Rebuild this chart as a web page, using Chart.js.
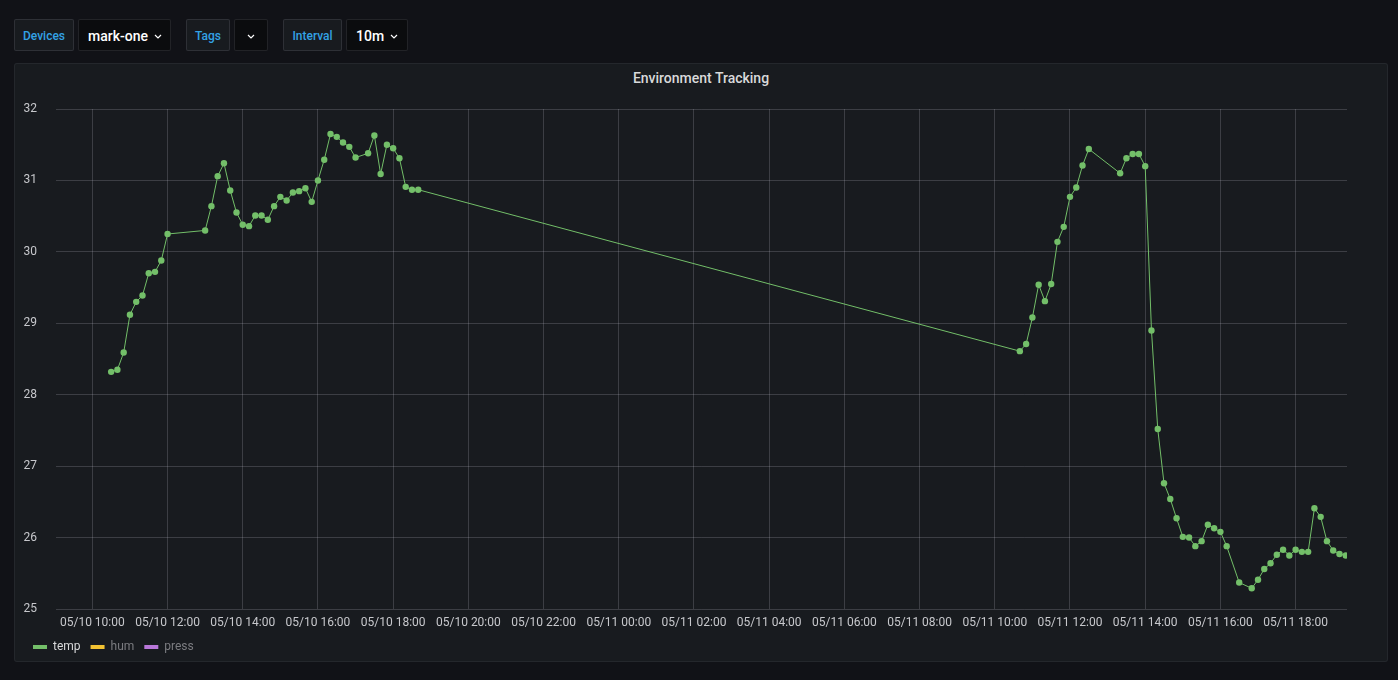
<!DOCTYPE html>
<html>
<head>
<meta charset="utf-8">
<script src="https://cdn.jsdelivr.net/npm/chart.js@4/dist/chart.umd.min.js"></script>
<style>
  html, body { margin:0; padding:0; width:1398px; height:680px; overflow:hidden; background:#111217; font-family:Roboto, "Noto Sans", sans-serif; }
  .ctl { position:absolute; top:19px; height:32px; box-sizing:border-box; border:1px solid rgba(204,204,220,0.12); border-radius:2px; display:flex; align-items:center; padding-top:2px; }
  .lbl { background:#181b1f; color:#33a2e5; font-size:12px; font-weight:500; justify-content:center; }
  .val { background:#0b0c0e; color:#ffffff; font-size:14px; font-weight:500; padding-left:9px; }
  .chev { width:8px; height:5px; margin-left:6px; }
  #panel { position:absolute; left:14px; top:63px; width:1374px; height:599px; box-sizing:border-box; background:#181b1f; border:1px solid rgba(204,204,220,0.07); border-radius:3px; }
  #title { position:absolute; left:14px; width:1374px; top:70px; line-height:16px; text-align:center; color:#d8d9da; font-size:14px; font-weight:500; }
  #wrap { position:absolute; left:14px; top:91px; width:1374px; height:572px; }
</style>
</head>
<body>
<div class="ctl lbl" style="left:14px;width:60px;">Devices</div>
<div class="ctl val" style="left:78px;width:93px;">mark-one<svg class="chev" viewBox="0 0 8 5"><path d="M1 1 L4 4 L7 1" stroke="#ffffff" stroke-width="1.2" fill="none"/></svg></div>
<div class="ctl lbl" style="left:186px;width:44px;">Tags</div>
<div class="ctl val" style="left:234px;width:34px;padding-left:0;justify-content:center;"><svg class="chev" style="margin-left:0" viewBox="0 0 8 5"><path d="M1 1 L4 4 L7 1" stroke="#ffffff" stroke-width="1.2" fill="none"/></svg></div>
<div class="ctl lbl" style="left:283px;width:59px;">Interval</div>
<div class="ctl val" style="left:346px;width:62px;">10m<svg class="chev" viewBox="0 0 8 5"><path d="M1 1 L4 4 L7 1" stroke="#ffffff" stroke-width="1.2" fill="none"/></svg></div>

<div id="panel"></div>
<div id="title">Environment Tracking</div>
<div id="wrap"><canvas id="c" width="1374" height="572"></canvas></div>

<script>
// ---- data ----
const tempTimes = [
  "05/10 10:30","05/10 10:40","05/10 10:50","05/10 11:00","05/10 11:10","05/10 11:20","05/10 11:30","05/10 11:40","05/10 11:50","05/10 12:00",
  "05/10 13:00","05/10 13:10","05/10 13:20","05/10 13:30","05/10 13:40","05/10 13:50","05/10 14:00","05/10 14:10","05/10 14:20","05/10 14:30",
  "05/10 14:40","05/10 14:50","05/10 15:00","05/10 15:10","05/10 15:20","05/10 15:30","05/10 15:40","05/10 15:50","05/10 16:00","05/10 16:10",
  "05/10 16:20","05/10 16:30","05/10 16:40","05/10 16:50","05/10 17:00","05/10 17:20","05/10 17:30","05/10 17:40","05/10 17:50","05/10 18:00",
  "05/10 18:10","05/10 18:20","05/10 18:30","05/10 18:40",
  "05/11 10:40","05/11 10:50","05/11 11:00","05/11 11:10","05/11 11:20","05/11 11:30","05/11 11:40","05/11 11:50","05/11 12:00","05/11 12:10",
  "05/11 12:20","05/11 12:30","05/11 13:20","05/11 13:30","05/11 13:40","05/11 13:50","05/11 14:00","05/11 14:10","05/11 14:20","05/11 14:30",
  "05/11 14:40","05/11 14:50","05/11 15:00","05/11 15:10","05/11 15:20","05/11 15:30","05/11 15:40","05/11 15:50","05/11 16:00","05/11 16:10",
  "05/11 16:30","05/11 16:50","05/11 17:00","05/11 17:10","05/11 17:20","05/11 17:30","05/11 17:40","05/11 17:50","05/11 18:00","05/11 18:10",
  "05/11 18:20","05/11 18:30","05/11 18:40","05/11 18:50","05/11 19:00","05/11 19:10","05/11 19:20"
];
const tempValues = [
  28.32,28.35,28.59,29.12,29.30,29.39,29.70,29.72,29.88,30.25,
  30.30,30.64,31.06,31.24,30.86,30.55,30.38,30.36,30.51,30.51,
  30.45,30.64,30.77,30.72,30.83,30.85,30.89,30.70,31.00,31.29,
  31.65,31.61,31.53,31.47,31.32,31.38,31.63,31.09,31.50,31.45,
  31.31,30.91,30.87,30.87,
  28.61,28.71,29.08,29.54,29.31,29.55,30.14,30.35,30.77,30.90,
  31.21,31.44,31.10,31.31,31.37,31.37,31.20,28.90,27.52,26.76,
  26.54,26.27,26.01,26.00,25.88,25.95,26.18,26.13,26.08,25.88,
  25.37,25.29,25.41,25.56,25.64,25.76,25.83,25.75,25.83,25.80,
  25.80,26.41,26.29,25.95,25.82,25.77,25.75
];
const humValues = [];
const pressValues = [];
const seriesNames = ["temp","hum","press"];
const xTickLabels = [
  "05/10 10:00","05/10 12:00","05/10 14:00","05/10 16:00","05/10 18:00","05/10 20:00","05/10 22:00",
  "05/11 00:00","05/11 02:00","05/11 04:00","05/11 06:00","05/11 08:00","05/11 10:00","05/11 12:00",
  "05/11 14:00","05/11 16:00","05/11 18:00"
];
const rangeStart = "05/10 09:02";
const rangeEnd = "05/11 19:22";
const yMin = 25, yMax = 32;

// ---- helpers ----
function toMinutes(s) {
  const [d, t] = s.split(" ");
  const day = parseInt(d.split("/")[1], 10) - 10;
  const [h, m] = t.split(":").map(Number);
  return day * 1440 + h * 60 + m;
}
const xTickValues = xTickLabels.map(toMinutes);
const tempPoints = tempTimes.map((t, i) => ({ x: toMinutes(t), y: tempValues[i] }));

const colors = ["#73BF69", "#F2C232", "#B877D9"];
const gridColor = "rgba(204,204,220,0.2)";
const tickColor = "#c7c8cc";
const font = { family: "Roboto", size: 12 };

new Chart(document.getElementById("c"), {
  type: "line",
  data: {
    datasets: [
      { label: seriesNames[0], data: tempPoints, borderColor: colors[0], backgroundColor: colors[0],
        borderWidth: 1, pointRadius: 3.2, pointBorderWidth: 0, pointBackgroundColor: colors[0], tension: 0 },
      { label: seriesNames[1], data: humValues, borderColor: colors[1], backgroundColor: colors[1], borderWidth: 1 },
      { label: seriesNames[2], data: pressValues, borderColor: colors[2], backgroundColor: colors[2], borderWidth: 1 }
    ]
  },
  options: {
    responsive: false,
    animation: false,
    layout: { padding: { left: 9, right: 41, top: 18, bottom: 0 } },
    scales: {
      x: {
        type: "linear",
        min: toMinutes(rangeStart),
        max: toMinutes(rangeEnd),
        afterBuildTicks: (s) => { s.ticks = xTickValues.map(v => ({ value: v })); },
        afterFit: (s) => { s.paddingLeft = 0; s.paddingRight = 0; s.height = 22; },
        ticks: {
          autoSkip: false, maxRotation: 0, padding: 7, color: tickColor, font,
          callback: (v) => { const i = xTickValues.indexOf(v); return i >= 0 ? xTickLabels[i] : ""; }
        },
        grid: { color: gridColor, drawTicks: false },
        border: { display: false }
      },
      y: {
        min: yMin, max: yMax,
        ticks: { stepSize: 1, padding: 19, color: tickColor, font },
        grid: { color: gridColor, drawTicks: false },
        border: { display: false },
        afterFit: (s) => { s.width = 33; s.paddingTop = 0; s.paddingBottom = 0; }
      }
    },
    plugins: {
      title: { display: false },
      tooltip: { enabled: false },
      legend: {
        position: "bottom",
        align: "start",
        onClick: null,
        labels: {
          boxWidth: 14, boxHeight: 4, padding: 10, font,
          generateLabels: (chart) => chart.data.datasets.map((d, i) => ({
            text: d.label, fillStyle: d.borderColor, strokeStyle: d.borderColor, lineWidth: 0,
            hidden: false, datasetIndex: i, fontColor: i === 0 ? "#d8d9da" : "#7b7c80"
          }))
        }
      }
    }
  }
});
</script>
</body>
</html>
